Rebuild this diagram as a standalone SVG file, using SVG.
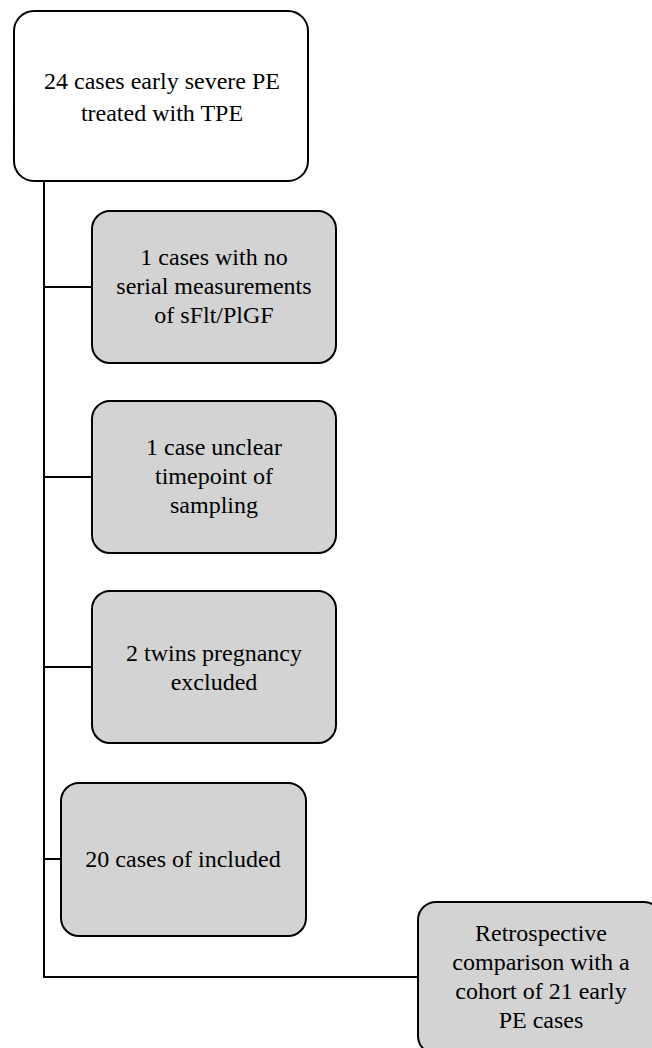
<svg xmlns="http://www.w3.org/2000/svg" width="652" height="1048" viewBox="0 0 652 1048">
<style>
.box{stroke:#000;stroke-width:2}
.w{fill:#fff}
.g{fill:#d3d3d3}
.c{stroke:#000;stroke-width:2;fill:none}
</style>
<rect width="652" height="1048" fill="#fff"/>
<g id="connectors">
<path class="c" d="M44 181 V977 H418"/>
<path class="c" d="M44 287 H92"/>
<path class="c" d="M44 477 H92"/>
<path class="c" d="M44 667 H92"/>
<path class="c" d="M44 859 H61"/>
</g>
<g font-family="Liberation Serif, Times New Roman, serif" font-size="24" fill="#000" text-anchor="middle">
<g id="n1">
<rect class="box w" x="14" y="11" width="294" height="170" rx="20"/>
<text x="162" y="89">24 cases early severe PE</text>
<text x="162" y="121">treated with TPE</text>
</g>
<g id="n2">
<rect class="box g" x="92" y="211" width="244" height="152" rx="18"/>
<text x="214" y="265">1 cases with no</text>
<text x="214" y="294">serial measurements</text>
<text x="214" y="323">of sFlt/PlGF</text>
</g>
<g id="n3">
<rect class="box g" x="92" y="401" width="244" height="152" rx="18"/>
<text x="214" y="455">1 case unclear</text>
<text x="214" y="484">timepoint of</text>
<text x="214" y="513">sampling</text>
</g>
<g id="n4">
<rect class="box g" x="92" y="591" width="244" height="152" rx="18"/>
<text x="214" y="661">2 twins pregnancy</text>
<text x="214" y="690">excluded</text>
</g>
<g id="n5">
<rect class="box g" x="61" y="783" width="245" height="153" rx="18"/>
<text x="183" y="867">20 cases of included</text>
</g>
<g id="n6">
<rect class="box g" x="418" y="902" width="244" height="152" rx="18"/>
<text x="541" y="941">Retrospective</text>
<text x="541" y="970">comparison with a</text>
<text x="541" y="999">cohort of 21 early</text>
<text x="541" y="1028">PE cases</text>
</g>
</g>
</svg>
